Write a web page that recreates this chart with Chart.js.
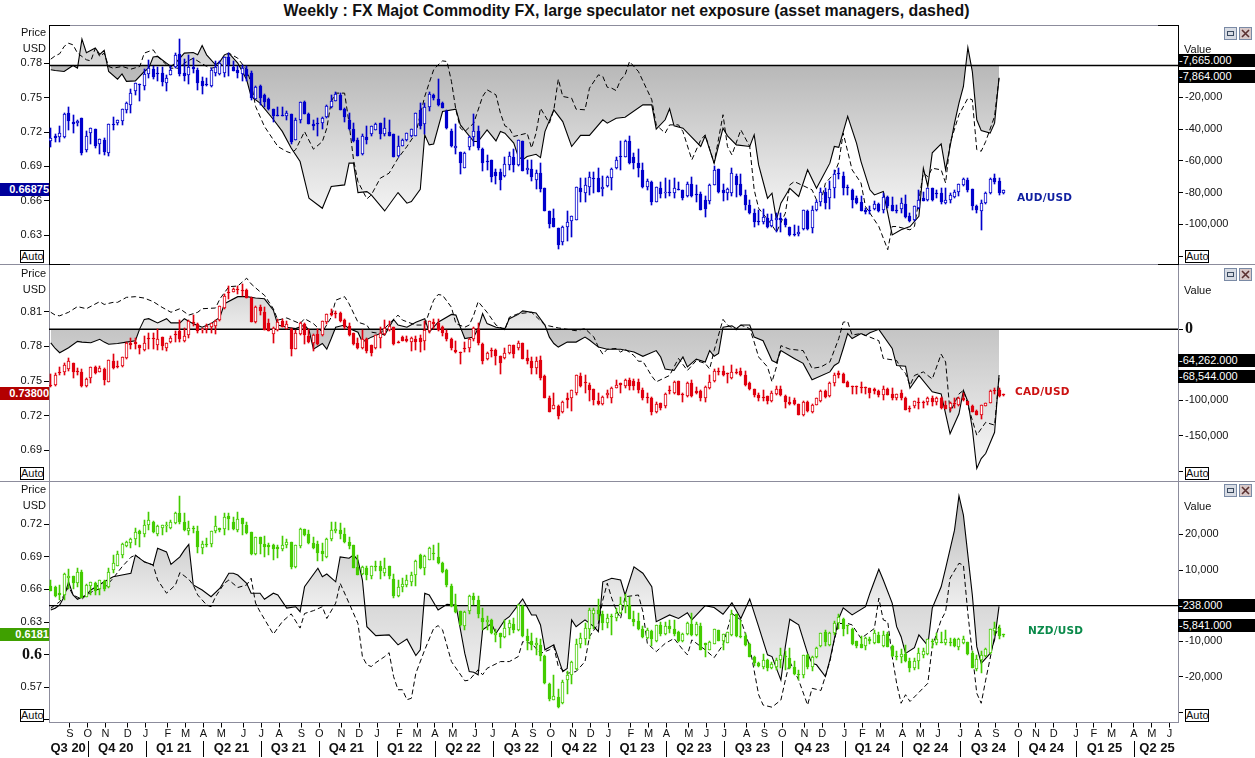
<!DOCTYPE html>
<html>
<head>
<meta charset="utf-8">
<script src="https://cdn.jsdelivr.net/npm/chart.js@4"></script>
<style>
  html, body { margin: 0; padding: 0; background: #fff; width: 1255px; height: 758px; overflow: hidden; }
  body { font-family: "Liberation Sans", Arial, sans-serif; font-size: 11px; color: #111; }
  canvas { position: absolute; left: 0; }
  .t { position: absolute; white-space: nowrap; line-height: 14px; }
  .box { position: absolute; background: #fff; border: 1px solid #000; width: 22px; height: 11px; line-height: 11px; text-align: center; }
  .val { position: absolute; left: 1178px; width: 77px; height: 13px; line-height: 13px; background: #000; color: #fff; padding-left: 1px; box-sizing: border-box; }
  .last { position: absolute; left: 0; width: 49px; height: 13px; line-height: 13px; color: #fff; font-weight: bold; text-align: right; }
  .pair { position: absolute; font-family: "DejaVu Sans", sans-serif; font-weight: bold; font-size: 10.5px; line-height: 12px; letter-spacing: 0.2px; }
  .rule { position: absolute; height: 1px; }
</style>
</head>
<body>
<div class="t" style="left:0;width:1253px;top:3px;text-align:center;font-weight:bold;font-size:15.9px;line-height:16px">Weekly : FX Majot Commodity FX, large speculator net exposure (asset managers, dashed)</div>

<canvas id="audChart" width="1255" height="239" style="top:25px"></canvas>
<canvas id="cadChart" width="1255" height="217" style="top:264px"></canvas>
<canvas id="nzdChart" width="1255" height="277" style="top:481px"></canvas>

<div id="overlay"></div>

<script>
// candles are [open, high, low, close] in thousandths of a USD, one per week
const audCandles = [[712,724,707,715],[717,718,711,715],[716,725,711,719],[716,737,715,736],[737,742,722,730],[729,735,719,727],[728,731,725,730],[732,732,700,702],[704,721,703,717],[719,724,710,724],[723,723,706,708],[710,714,701,714],[713,715,700,703],[702,727,699,727],[727,733,722,726],[728,731,726,731],[730,740,726,740],[739,746,737,745],[744,758,737,754],[756,763,752,763],[761,762,747,761],[760,775,757,771],[771,783,767,776],[775,778,766,768],[772,777,765,771],[772,777,760,764],[763,770,756,767],[770,778,770,774],[777,789,776,787],[788,801,769,771],[772,784,765,769],[770,787,762,777],[777,785,772,775],[774,776,757,763],[765,768,753,760],[762,767,760,761],[760,776,759,774],[772,782,769,777],[771,782,770,780],[772,786,768,786],[786,789,769,779],[777,782,773,773],[774,778,767,772],[771,779,765,776],[775,778,765,769],[772,773,748,750],[749,760,749,759],[760,761,744,750],[752,753,742,746],[749,750,739,740],[740,740,729,734],[735,742,734,734],[735,742,734,734],[734,738,731,737],[736,736,710,711],[713,732,713,731],[731,746,728,746],[746,747,736,736],[736,737,727,727],[727,731,722,725],[728,732,717,727],[728,733,723,732],[733,744,732,743],[742,752,741,747],[747,755,747,753],[752,754,739,739],[740,741,729,733],[731,737,722,723],[723,728,711,712],[713,715,699,699],[701,718,700,717],[716,725,710,713],[718,725,717,725],[722,728,722,727],[728,728,714,718],[718,732,717,724],[720,731,717,717],[718,718,698,698],[699,717,698,708],[708,714,708,713],[713,719,712,719],[717,723,716,723],[717,737,717,737],
[739,745,723,725],[727,745,718,742],[742,755,738,753],[752,753,748,750],[749,766,743,744],[745,746,741,741],[738,739,723,724],[721,723,707,708],[706,727,701,708],[703,703,683,693],[689,703,689,702],[707,717,704,716],[716,736,708,721],[721,725,704,706],[705,706,686,693],[695,700,687,694],[696,696,676,681],[685,688,675,682],[685,688,669,678],[682,698,681,692],[691,703,687,699],[698,705,685,691],[691,713,690,713],[712,712,686,686],[687,696,683,689],[688,696,677,681],[678,687,670,684],[684,693,668,670],[671,671,651,651],[651,651,636,640],[645,653,637,637],[636,636,618,621],[624,638,621,637],[637,651,625,641],[642,647,628,647],[643,672,643,672],[671,680,659,668],[667,680,659,674],[672,685,665,681],[680,685,667,679],[680,689,668,668],[670,682,664,672],[673,682,672,681],[680,689,669,688],[689,698,688,696],[699,712,687,698],[698,713,698,712],[712,717,692,693],[698,702,688,693],[693,705,681,689],[687,693,671,672],[672,679,669,677],[676,677,656,659],[659,672,659,672],[671,676,662,666],[667,680,662,668],[668,678,664,667],[667,680,662,671],[670,676,669,669],[669,669,661,662],[664,676,663,675],[675,681,663,664],[666,674,659,665],[666,668,652,652],[661,664,646,653],[660,675,657,674],[674,690,674,687],[688,688,667,668],[669,675,660,667],[667,671,661,670],[667,689,664,684],[682,683,663,674],[675,683,664,665],[665,669,652,656],[656,661,648,649],[649,653,637,641],[642,652,639,641],[641,653,640,646],[645,648,636,637],[638,648,637,643],[643,649,633,645],[645,649,633,643],[644,645,637,639],[637,637,629,630],[631,639,629,630],[631,638,629,633],[635,652,634,652],[651,652,634,635],[636,655,632,652],[652,661,651,659],[659,671,655,668],[668,671,653,658],[662,677,653,670],[671,687,662,683],
[684,689,679,683],[682,685,665,671],[672,674,665,671],[669,670,654,661],[662,664,657,658],[659,664,651,651],[652,654,648,650],[652,655,648,651],[653,660,652,657],[657,658,650,651],[652,667,649,663],[663,664,654,655],[656,663,651,651],[652,656,649,651],[653,662,649,658],[657,665,645,646],[647,649,641,642],[643,655,642,655],[654,669,653,661],[662,668,660,660],[661,671,660,671],[671,671,660,661],[667,669,662,666],[667,671,657,659],[658,671,657,661],[661,667,658,665],[663,669,662,668],[668,675,664,675],[674,680,673,679],[678,680,668,669],[670,670,652,655],[655,656,649,652],[651,661,634,658],[658,668,657,667],[667,680,666,679],[680,683,675,676],[677,680,665,667],[667,669,666,669]];

const cadCandles = [[747,756,745,746],[747,757,746,755],[758,762,755,757],[758,766,755,764],[760,770,759,767],[766,766,753,758],[759,761,755,758],[758,760,745,746],[746,753,745,752],[753,762,748,762],[762,763,756,757],[758,763,758,761],[760,761,747,751],[749,768,749,768],[767,773,760,761],[762,767,761,762],[763,771,762,771],[770,784,769,783],[783,787,778,781],[784,787,778,782],[781,781,773,779],[777,789,776,783],[786,792,778,786],[787,792,778,786],[781,795,777,786],[788,788,777,780],[779,783,776,783],[784,789,783,787],[791,793,784,790],[793,803,784,786],[785,796,784,789],[790,803,787,802],[801,807,798,800],[799,800,792,793],[794,796,792,795],[795,799,792,798],[797,800,792,800],[798,803,791,802],[803,815,802,815],[813,825,812,824],[826,832,821,826],[827,831,827,830],[830,832,825,829],[829,834,824,828],[829,830,822,822],[822,823,801,801],[801,815,800,814],[814,816,807,811],[810,814,794,794],[800,804,793,793],[791,797,783,796],[794,804,793,801],[802,804,797,797],[795,802,795,799],[795,796,772,778],[778,794,778,792],[791,801,790,800],[799,800,782,790],[789,795,783,784],[783,791,776,790],[791,795,781,782],[790,802,789,802],[801,808,799,808],[809,812,806,807],[809,811,805,808],[809,810,801,802],[803,804,795,797],[798,800,789,790],[792,792,781,782],[783,787,778,779],[779,794,778,786],[786,787,774,776],[781,781,772,774],[779,790,778,790],[787,797,779,792],[791,803,790,796],[794,802,793,798],[797,797,781,782],[784,785,783,783],[788,789,785,785],[786,789,784,785],[784,788,776,787],[786,789,777,784],
[787,790,775,784],[785,802,777,794],[793,802,792,802],[801,804,795,799],[800,804,793,794],[797,798,789,792],[792,794,785,786],[786,787,777,779],[777,785,774,775],[775,775,765,774],[779,784,775,778],[779,787,775,786],[786,797,785,796],[795,800,781,783],[782,783,765,767],[769,775,768,774],[777,779,771,776],[777,778,764,772],[772,772,756,766],[770,779,769,774],[774,781,773,781],[781,781,770,773],[779,785,777,783],[783,783,769,769],[770,777,765,767],[767,771,756,761],[761,771,756,767],[768,772,751,753],[754,755,735,735],[735,737,723,723],[726,740,726,729],[728,729,717,720],[723,733,722,732],[735,740,727,734],[735,742,724,742],[740,755,738,755],[754,757,745,746],[749,755,740,748],[747,748,733,742],[743,743,729,734],[733,740,729,730],[730,737,729,736],[738,742,735,740],[735,745,731,744],[744,751,744,747],[748,748,740,747],[746,752,744,751],[751,753,742,746],[750,752,742,746],[749,752,740,742],[742,744,734,735],[736,740,731,735],[735,736,721,723],[723,732,722,730],[731,731,725,727],[728,740,727,739],[742,746,739,741],[740,750,739,749],[750,750,738,738],[739,740,732,738],[737,749,736,748],[748,751,736,737],[741,745,739,740],[741,742,733,735],[735,746,732,745],[744,755,743,749],[750,760,749,759],[759,761,755,758],[759,763,754,755],[757,757,748,756],[753,764,752,758],[758,760,756,757],[759,761,754,755],[755,759,746,747],[748,749,742,743],[743,743,736,738],[738,740,733,735],[736,742,733,735],[737,737,730,733],[733,741,732,740],[739,746,738,743],[743,746,737,738],[737,738,727,732],[732,736,729,730],[734,735,729,730],[730,730,721,721],[721,733,720,732],[732,733,723,724],[723,730,722,729],[729,735,729,735],[733,742,732,741],[741,742,735,736],[737,749,736,748],[748,757,746,755],
[757,759,753,755],[756,757,748,748],[749,750,745,745],[746,746,739,745],[746,746,739,745],[745,749,740,744],[745,745,739,744],[744,744,735,740],[743,744,739,741],[741,742,736,738],[738,746,734,743],[743,744,738,738],[739,744,734,735],[735,739,734,739],[740,742,734,735],[735,736,725,725],[727,728,723,726],[728,733,727,733],[732,735,726,731],[732,733,727,731],[732,736,729,735],[735,737,728,732],[732,736,729,735],[735,736,726,727],[729,733,726,726],[727,732,724,731],[731,735,727,730],[729,736,728,735],[735,740,733,734],[733,733,729,729],[728,729,723,723],[724,725,721,721],[721,729,717,729],[728,731,728,731],[731,742,731,741],[742,744,739,741],[742,744,736,737],[738,739,737,738]];

const nzdCandles = [[663,669,659,659],[662,663,653,654],[657,664,650,655],[655,675,650,674],[671,679,660,672],[672,672,660,666],[666,680,662,676],[676,678,652,652],[653,665,653,664],[663,667,655,667],[666,667,655,659],[660,669,655,669],[668,669,659,660],[662,680,661,676],[678,692,675,684],[682,695,682,693],[692,703,689,702],[700,705,699,704],[703,707,698,706],[706,717,701,713],[714,715,699,711],[711,724,708,719],[719,731,715,724],[722,723,712,713],[711,719,709,718],[717,719,710,719],[718,722,713,719],[717,724,716,722],[721,731,720,730],[730,746,720,722],[722,730,714,715],[714,723,710,717],[717,718,712,716],[714,718,694,699],[698,705,693,702],[702,707,699,701],[702,714,699,714],[714,728,712,718],[717,717,713,715],[716,730,710,727],[728,730,715,725],[722,727,715,716],[715,731,713,725],[726,726,710,720],[719,722,711,712],[713,713,692,693],[693,708,692,708],[708,708,693,702],[702,709,690,699],[701,703,692,699],[701,702,687,697],[699,701,689,697],[697,709,695,701],[701,706,698,704],[704,704,679,681],[681,701,680,701],[700,717,698,716],[716,716,709,710],[711,715,702,703],[703,708,697,698],[702,705,686,694],[695,703,686,693],[690,707,689,706],[706,722,705,715],[714,722,712,716],[715,721,706,711],[711,717,703,704],[704,708,697,700],[701,701,680,680],[681,692,673,673],[674,682,673,681],[680,682,669,673],[672,682,670,682],[682,686,677,681],[682,686,670,677],[675,689,672,680],[682,682,670,672],[670,674,652,654],[654,669,653,662],[662,671,658,665],[664,673,662,669],[667,676,663,673],[673,687,663,686],
[692,693,679,680],[680,692,673,691],[687,699,687,698],[694,701,687,693],[690,703,683,684],[684,685,675,676],[678,679,662,664],[663,665,644,645],[646,656,638,639],[640,640,626,627],[626,640,623,639],[640,655,637,654],[654,657,646,650],[650,654,634,637],[634,643,623,630],[630,636,623,632],[632,633,619,620],[618,624,612,620],[620,620,606,616],[616,632,615,625],[625,632,618,629],[628,634,620,623],[623,647,622,646],[645,646,616,617],[617,624,604,613],[613,620,604,609],[609,615,600,611],[609,614,594,599],[599,600,573,574],[573,574,557,559],[558,581,558,562],[561,568,551,552],[556,577,555,575],[577,585,564,581],[581,594,573,593],[587,614,586,610],[610,620,606,615],[614,629,609,625],[624,643,614,641],[637,643,624,641],[641,651,632,637],[637,640,623,629],[629,637,625,634],[635,637,618,635],[634,643,631,638],[638,653,637,647],[645,656,638,649],[646,653,633,633],[633,640,626,630],[631,638,623,624],[624,626,615,616],[615,625,614,623],[622,623,608,614],[613,627,612,627],[627,630,617,619],[619,630,618,626],[626,632,620,624],[624,632,617,619],[621,622,612,613],[613,620,612,619],[619,630,618,629],[628,638,617,618],[618,630,617,628],[626,629,604,604],[611,611,598,609],[604,613,604,612],[610,624,610,624],[623,623,613,613],[613,619,604,619],[611,621,611,621],[618,641,617,637],[637,637,616,617],[617,632,615,616],[617,620,608,609],[610,611,598,598],[598,599,590,592],[592,593,589,590],[589,601,587,595],[595,596,585,588],[588,593,587,591],[589,597,586,595],[595,606,588,600],[599,603,586,598],[597,606,587,588],[589,594,581,582],[582,586,577,581],[581,600,579,600],[600,601,587,589],[589,599,585,598],[598,607,597,606],[608,620,607,620],[621,623,608,612],[609,621,608,620],[620,631,618,629],
[629,637,624,635],[633,634,617,624],[626,627,619,626],[624,625,609,610],[613,613,606,608],[610,617,606,606],[608,616,604,615],[614,616,610,613],[611,623,610,620],[618,621,611,611],[608,622,607,618],[619,621,607,607],[608,609,598,599],[599,603,595,598],[598,605,592,601],[601,609,593,594],[594,597,584,588],[588,597,586,594],[594,606,587,602],[600,606,597,603],[601,614,600,614],[613,614,606,612],[611,620,609,614],[612,621,611,611],[611,623,609,614],[612,615,608,611],[614,615,607,608],[607,615,604,614],[611,617,610,614],[612,612,600,601],[602,603,588,588],[587,600,585,596],[595,603,583,600],[599,606,598,605],[602,624,601,624],[622,630,618,625],[625,627,614,617],[618,619,616,618]];

// net positions are [week, thousand contracts]
const audLargeSpec = [[0,-2.7],[1,-3.2],[3,-3.8],[5,0],[6,-1.7],[7,16.6],[8,8],[10,11],[11,7],[12,9.5],[13,-3.8],[15,-8.6],[16,-5.3],[17,-10],[19,-9.7],[21,-3.8],[22,-1.7],[23,5.3],[24,5.7],[26,1.5],[27,-.6],[28,1.5],[30,7.8],[32,8.2],[33,6.7],[34,12.6],[35,6.7],[37,.4],[38,2.5],[39,6.7],[40,7.8],[42,1.5],[44,-9],[45,-19.5],[47,-23.7],[50,-34],[52,-41.5],[54,-52],[56,-60.5],[58,-83.6],[61,-89.9],[63,-76.2],[66,-75.2],[67,-61.5],[68,-61.5],[69,-80],[71,-79.4],[72,-81.5],[75,-91.6],[78,-80],[80,-86.7],[81,-85.7],[83,-78],[84,-43.7],[85,-50],[86,-49.4],[88,-29],[91,-27.5],[92,-37.4],[95,-47.9],[96,-47.9],[98,-40.5],[100,-47.5],[101,-41.6],[102,-42.6],[104,-48.9],[105,-57.3],[106,-59.4],[107,-57.3],[109,-55.9],[110,-58],[111,-41.6],[113,-27.9],[115,-35.3],[117,-51],[119,-44],[121,-44],[124,-34.2],[125,-36.3],[127,-33.2],[129,-32.6],[133,-24.8],[135,-24.8],[136,-40],[138,-34.2],[139,-27.3],[140,-38],[142,-39.5],[146,-51],[147,-44.3],[149,-61.5],[151,-39.5],[152,-44.3],[154,-50],[157,-51],[158,-43.7],[159,-62.6],[161,-83.6],[162,-80.4],[163,-97.2],[164,-86.7],[166,-77.3],[168,-82.5],[170,-65.7],[172,-77.3],[175,-61.5],[176,-51],[177,-51.5],[179,-32],[181,-49],[182,-60.5],[184,-78.3],[185,-81.5],[187,-79.4],[189,-106.7],[191,-103.5],[193,-101.4],[195,-95],[196,-64.7],[197,-76.2],[198,-55],[200,-49.4],[201,-65.7],[203,-36.3],[204,-23.7],[205,-13.2],[206,11.3],[207,-3.8],[208,-34.2],[209,-41],[211,-42.6],[212,-36.3],[213,-7.7]];
const audAssetMgr = [[0,4],[1,6.1],[2,7.4],[3,12],[4,14],[5,13],[6,7.8],[8,3.6],[9,2.9],[10,10.9],[11,5.7],[12,7.8],[13,-.6],[14,-1.7],[16,-.6],[18,-2.3],[20,-.6],[21,7.8],[23,9.9],[24,5.7],[26,.4],[27,-1.7],[29,-1.7],[30,1.5],[32,4.6],[35,-.6],[36,-1.7],[38,-.6],[40,7.8],[42,4.6],[44,-2.7],[45,-11],[46,-25.8],[48,-38.4],[51,-51],[53,-54.2],[54,-55.2],[55,-53],[57,-41.6],[59,-52.7],[61,-47.9],[62,-39.5],[63,-22.7],[64,-17.4],[66,-17.4],[67,-36.3],[68,-59.4],[69,-73.1],[71,-84],[72,-81.5],[74,-71],[76,-67.8],[78,-58.4],[80,-51],[82,-42.6],[84,-19.5],[85,-11],[86,-2.7],[87,.4],[88,2.9],[89,2.5],[90,-10],[91,-28],[92,-39.5],[93,-41.6],[95,-36.3],[97,-19.5],[98,-15.3],[100,-18.5],[101,-30],[102,-38],[103,-39.5],[104,-44.7],[107,-42.6],[108,-52],[109,-42.6],[110,-26.9],[112,-36.3],[113,-27.9],[114,-8.6],[115,-19.5],[117,-20.6],[118,-27.5],[120,-27.9],[121,-14.3],[123,-5.9],[124,-6.9],[125,-13.7],[126,-14.3],[127,-15.8],[128,-9],[129,-5.9],[130,2.5],[132,-3.8],[135,-21.6],[136,-37.4],[138,-42.6],[139,-37.4],[141,-37.4],[142,-41.6],[144,-59.4],[146,-46.8],[147,-43.7],[149,-61.5],[151,-31],[152,-51],[153,-56.3],[155,-40.5],[157,-51],[158,-78.3],[159,-89.9],[162,-100.4],[163,-105],[165,-93],[166,-75.2],[167,-73.1],[171,-78.3],[172,-84.6],[173,-85.7],[174,-74.1],[176,-68],[177,-61],[178,-42.6],[180,-65.7],[182,-74],[183,-88.8],[186,-101.4],[188,-116],[189,-101.4],[190,-101.4],[193,-103.5],[194,-101.4],[196,-67.8],[197,-70],[198,-64.7],[200,-65.7],[201,-74],[202,-49],[204,-31],[206,-20.6],[207,-21.6],[208,-53],[209,-54],[210,-47.9],[212,-32],[213,-7.9]];

const cadLargeSpec = [[0,-19],[1,-27],[2,-33],[4,-26],[6,-17],[7,-18],[9,-19],[11,-14],[12,-18],[13,-21],[15,-20],[17,-18],[19,-16],[20,1],[21,14],[22,15],[24,9],[26,15],[27,9],[29,9],[30,15],[32,8],[34,3],[36,8],[38,17],[39,36],[42,46],[44,46],[46,44],[48,43],[50,27],[51,6],[53,3],[55,1],[57,6],[58,-1],[59,-28],[61,-20],[62,-28],[63,-13],[64,3],[66,6],[67,1],[69,-4],[70,-18],[72,-11],[74,-6],[75,-8],[77,14],[78,6],[80,3],[82,10],[84,15],[85,-4],[87,10],[90,21],[91,20],[92,3],[93,-13],[95,-11],[96,1],[97,22],[98,8],[100,3],[102,1],[103,15],[105,21],[106,26],[109,23],[111,6],[112,-11],[113,-20],[114,-25],[116,-18],[118,-18],[120,-11],[121,-15],[123,-25],[125,-28],[128,-28],[131,-32],[133,-38],[136,-30],[137,-39],[138,-56],[140,-58],[142,-39],[143,-53],[145,-42],[147,-46],[148,-30],[149,-38],[150,-34],[151,3],[153,5],[154,1],[155,6],[157,6],[158,-11],[160,-16],[162,-44],[163,-47],[164,-30],[167,-41],[169,-48],[171,-71],[175,-60],[176,-51],[177,-47],[178,-27],[179,-6],[180,-13],[182,-6],[183,-9],[184,-5],[186,0],[189,-27],[190,-51],[192,-52],[193,-83],[195,-65],[198,-88],[200,-91],[202,-147],[204,-119],[205,-86],[206,-102],[207,-140],[208,-196],[209,-182],[210,-175],[212,-145],[213,-64.3]];
const cadAssetMgr = [[0,24],[1,20],[2,19],[4,24],[6,32],[8,29],[11,39],[12,35],[14,38],[15,38],[17,45],[19,46],[21,44],[23,39],[25,31],[27,24],[29,29],[31,20],[33,24],[34,29],[37,30],[38,43],[40,60],[42,61],[44,72],[45,64],[47,53],[48,48],[50,29],[51,13],[53,16],[56,8],[57,15],[59,8],[61,-4],[63,17],[64,41],[66,46],[67,36],[69,10],[71,6],[72,-4],[74,-6],[76,8],[78,20],[79,13],[82,6],[84,6],[85,24],[86,41],[87,49],[88,48],[90,31],[91,8],[93,3],[94,6],[95,20],[96,39],[98,24],[100,6],[102,-1],[103,17],[105,22],[108,24],[111,6],[114,2],[115,1],[118,-2],[120,1],[122,-11],[123,-25],[124,-35],[125,-28],[127,-27],[128,-32],[129,-28],[131,-37],[132,-45],[133,-45],[135,-66],[136,-74],[139,-65],[141,-41],[143,-58],[145,-44],[147,-48],[148,-56],[149,-30],[150,-8],[151,14],[152,6],[154,-1],[155,6],[157,1],[158,-18],[159,-39],[161,-53],[162,-74],[163,-53],[164,-23],[166,-28],[169,-30],[171,-55],[173,-53],[175,-46],[177,-13],[178,10],[179,11],[180,-8],[182,-6],[184,-11],[186,-16],[187,-41],[190,-44],[191,-55],[192,-62],[193,-79],[194,-65],[196,-60],[198,-70],[200,-35],[201,-46],[202,-117],[204,-91],[205,-86],[208,-149],[210,-131],[212,-135],[213,-68.5]];

const nzdLargeSpec = [[0,-1.2],[1,-.7],[2,.2],[3,2.5],[4,6.7],[5,3],[6,1.8],[8,3],[9,4.4],[12,6.7],[14,8.1],[16,8.6],[18,9.1],[19,14.2],[21,12.3],[23,11.4],[24,16.1],[26,15.1],[27,11.6],[29,13.7],[30,15.6],[31,17.2],[32,5.8],[34,4.4],[36,2.5],[38,4.9],[40,9.1],[41,9.1],[42,8.6],[44,6.3],[45,3.5],[47,3.5],[48,1.8],[50,3.5],[51,3],[53,-.7],[55,-.3],[56,-1.7],[57,5.3],[60,10.5],[61,8.1],[62,8.9],[64,6.7],[65,13.7],[67,13.3],[68,14.2],[69,12.8],[70,7.2],[71,-5.9],[73,-8.4],[76,-8.2],[78,-11],[80,-9.4],[82,-14],[83,-12.4],[84,3.5],[85,3],[87,-1.2],[89,.4],[91,.2],[93,-13.4],[94,-18.5],[95,-18.7],[96,-19.4],[97,-6.8],[99,-5],[100,-7.8],[102,-4],[103,-3.1],[105,.2],[106,1.9],[108,-2.6],[109,-2.6],[110,-5.4],[111,-12.4],[113,-11],[115,-18.5],[116,-17.6],[117,-4],[118,-5.9],[120,-4],[122,-5.9],[123,-7.3],[124,6.7],[126,7.7],[128,7.2],[129,3],[131,10.9],[133,9.1],[135,5.3],[136,-4.5],[139,-2.6],[141,-3.6],[143,-2],[144,-4],[147,0],[149,-.5],[151,-2.4],[153,.8],[155,-3.6],[157,1.9],[159,-5.9],[161,-13.8],[162,-14.3],[164,-20.9],[165,-11.5],[166,-3.8],[168,-5.4],[170,-13.4],[171,-16.2],[172,-16.6],[174,-19.9],[175,-15.2],[177,-3.6],[178,-.6],[180,-2.6],[183,-.3],[184,3.5],[186,10.2],[187,7.2],[189,.7],[190,-5.9],[191,-8.7],[192,-13.4],[194,-11.8],[195,-8.2],[197,-11.2],[198,-.7],[200,5.3],[201,10.5],[203,21.2],[204,30.8],[205,25.4],[207,3],[208,-11.5],[209,-16.2],[211,-13.4],[212,-9.6],[213,-.2]];
const nzdAssetMgr = [[0,-.7],[2,1.1],[3,3],[4,5.3],[5,3],[7,1.8],[8,3],[10,4.4],[12,4.9],[14,7.7],[16,10.9],[18,13.6],[19,14.2],[21,12.3],[23,11.4],[24,7.2],[26,3.5],[28,5.8],[29,9.3],[31,7.4],[32,5.8],[33,3],[35,.2],[36,-.3],[37,2.5],[39,6.3],[40,7.2],[42,5.1],[44,5.8],[45,7.7],[46,.7],[47,-1.7],[49,-5.9],[50,-8],[52,-4.5],[54,-2.3],[56,-6.3],[57,-2.2],[59,-1.4],[61,-.3],[62,-3.6],[64,.7],[65,6.3],[67,.7],[69,-5],[70,-14.3],[71,-16.6],[72,-17.1],[73,-16],[75,-14.3],[76,-13.2],[77,-19.9],[78,-23.6],[79,-23.6],[80,-26.4],[81,-26],[82,-19],[84,-12.4],[86,-6.4],[87,-5.6],[88,-6.8],[90,-15.7],[93,-21.1],[94,-20.9],[96,-18],[97,-19.4],[98,-17.6],[101,-15.7],[103,-15.7],[105,-14.3],[106,-10.1],[108,-10.6],[110,-13.4],[112,-12.4],[113,-11.5],[114,-17.1],[116,-19],[118,-18.5],[120,-15.7],[121,-8.7],[123,-5],[124,1.6],[125,6.3],[126,2.1],[127,-1.2],[128,-3.6],[129,2.5],[132,3],[133,-1.7],[134,-10.6],[136,-12.9],[138,-10.6],[140,-9.2],[142,-12.4],[143,-13.8],[144,-9.6],[147,-12.4],[149,-14.6],[151,-11],[153,-2.2],[155,-4],[157,-11.5],[159,-25],[160,-27.9],[162,-28.5],[164,-26.5],[165,-20.9],[166,-15.7],[168,-20.9],[170,-27.9],[171,-23.2],[173,-23.8],[175,-15.7],[176,-9.6],[177,-5],[179,-5],[180,-5.4],[182,-9.2],[185,-6.4],[186,2.1],[187,-4],[188,-4.5],[189,-14.3],[190,-21.8],[191,-27.4],[192,-25],[193,-26.9],[197,-21.8],[198,-11.5],[200,-4],[201,-1.7],[202,7.7],[204,11.9],[205,11.4],[206,-2.2],[208,-24.6],[209,-27.4],[210,-20.9],[212,-8.7],[213,-5.8]];

const audPriceTicks = [0.78, 0.75, 0.72, 0.69, 0.66, 0.63];
const cadPriceTicks = [0.81, 0.78, 0.75, 0.72, 0.69];
const nzdPriceTicks = [0.72, 0.69, 0.66, 0.63, 0.6, 0.57, 0.54];
const audValueTicks = [-20000, -40000, -60000, -80000, -100000, -120000];
const cadValueTicks = [0, -100000, -150000, -200000];
const nzdValueTicks = [20000, 10000, -10000, -20000, -30000];

const monthWeeks = [4,8,12,17,21,26,30,34,38,43,47,51,56,60,65,69,73,78,82,86,90,95,99,104,108,112,117,121,125,130,134,138,143,147,151,156,160,164,169,173,178,182,186,191,195,199,204,208,212,217,221,225,230,234,238,243,247,251];
const monthLabels = ["S","O","N","D","J","F","M","A","M","J","J","A","S","O","N","D","J","F","M","A","M","J","J","A","S","O","N","D","J","F","M","A","M","J","J","A","S","O","N","D","J","F","M","A","M","J","J","A","S","O","N","D","J","F","M","A","M","J"];
const quarterWeeks = [3.9,14.6,27.6,40.6,53.4,66.4,79.5,92.6,105.7,118.7,131.7,144.5,157.6,171,184.5,197.6,210.6,223.6,236.7,248.5];
const quarterLabels = ["Q3 20","Q4 20","Q1 21","Q2 21","Q3 21","Q4 21","Q1 22","Q2 22","Q3 22","Q4 22","Q1 23","Q2 23","Q3 23","Q4 23","Q1 24","Q2 24","Q3 24","Q4 24","Q1 25","Q2 25"];
const quarterBreaks = [8,21,34,47,60,73,86,99,112,125,138,151,164,178,191,204,217,230,243];

Chart.defaults.font.family = '"Liberation Sans", Arial, sans-serif';
Chart.defaults.font.size = 11;
Chart.defaults.color = "#111";

const FIRST_WEEK = -0.4, LAST_WEEK = 253.2;
const GREY = "#8c8c9c";

// snap the candles to whole pixels so they stay sharp
const crispBars = {
  id: "crispBars",
  beforeDatasetsDraw(chart) {
    chart.getSortedVisibleDatasetMetas().forEach(meta => {
      if (meta.type !== "bar") return;
      meta.data.forEach(el => {
        el.x = Math.floor(el.x) + 0.5;
        el.y = Math.round(el.y);
        el.base = Math.round(el.base);
      });
    });
  },
};

// little bars between the quarter names
const quarterBars = {
  id: "quarterBars",
  afterDraw(chart) {
    const c = chart.ctx, s = chart.scales.x;
    c.save();
    c.strokeStyle = "#000";
    c.beginPath();
    quarterBreaks.forEach(w => {
      const x = Math.round(s.getPixelForValue(w + 0.3)) + 0.5;
      c.moveTo(x, 260);
      c.lineTo(x, 276);
    });
    c.stroke();
    c.restore();
  },
};

function fade(ctx, top, from, fromColor, to, toColor) {
  const g = ctx.createLinearGradient(0, from - top, 0, to - top);
  g.addColorStop(0, fromColor);
  g.addColorStop(1, toColor);
  return g;
}

function toPoints(list) {
  return list.map(p => ({ x: p[0], y: p[1] * 1000 }));
}

function makePanel(p) {
  const ctx = document.getElementById(p.id).getContext("2d");
  const axisColor = p.axisColor;
  const fixWidth = w => s => { s.width = w; s.paddingTop = 0; s.paddingBottom = 0; };
  const fixHeight = h => s => { s.height = h; s.paddingLeft = 0; s.paddingRight = 0; };

  const scales = {
    x: {
      type: "linear", min: FIRST_WEEK, max: LAST_WEEK, offset: false,
      display: p.showDates,
      grid: { offset: false, drawOnChartArea: false, tickLength: 5, tickColor: "#000" },
      border: { display: false },
      afterBuildTicks: s => { s.ticks = monthWeeks.map(w => ({ value: w + 0.3 })); },
      afterFit: fixHeight(p.showDates ? 18 : 0),
      ticks: { autoSkip: false, maxRotation: 0, padding: 0, callback: (v, i) => monthLabels[i] },
    },
    y: {
      position: "left", min: p.priceMin, max: p.priceMax,
      grid: { drawOnChartArea: false, tickLength: 5, tickColor: "#000" },
      border: { color: axisColor, width: 1 },
      afterBuildTicks: s => { s.ticks = p.priceTicks.map(v => ({ value: v })); },
      afterFit: fixWidth(49),
      ticks: {
        autoSkip: false, padding: 2,
        callback: v => (v === 0.54 ? "" : v === 0.6 ? "0.6" : v.toFixed(2)),
        font: c => (c.tick && c.tick.value === 0.6
          ? { family: '"Liberation Serif", serif', weight: "bold", size: 16 }
          : { size: 11 }),
      },
    },
    y2: {
      position: "right", min: p.valueMin, max: p.valueMax,
      grid: { drawOnChartArea: false, tickLength: 5, tickColor: "#000" },
      border: { color: axisColor, width: 1 },
      afterBuildTicks: s => { s.ticks = p.valueTicks.map(v => ({ value: v })); },
      afterFit: fixWidth(77),
      ticks: {
        autoSkip: false, padding: 2,
        callback: v => ([-120000, -200000, -30000].includes(v) ? "" : v.toLocaleString("en-US")),
        font: c => (c.tick && c.tick.value === 0
          ? { family: '"Liberation Serif", serif', weight: "bold", size: 16 }
          : { size: 11 }),
      },
    },
  };
  if (p.showDates) {
    scales.x2 = {
      type: "linear", position: "bottom", min: FIRST_WEEK, max: LAST_WEEK, offset: false,
      grid: { drawOnChartArea: false, drawTicks: false, display: false },
      border: { display: false },
      afterBuildTicks: s => { s.ticks = quarterWeeks.map(w => ({ value: w })); },
      afterFit: fixHeight(17.5),
      ticks: { autoSkip: false, maxRotation: 0, padding: 0, font: { weight: "bold", size: 13 }, callback: (v, i) => quarterLabels[i] },
    };
  }

  return new Chart(ctx, {
    type: "bar",
    data: {
      datasets: [
        {
          label: p.name + " body", order: 0, grouped: false, xAxisID: "x", yAxisID: "y",
          data: p.candles.map((c, i) => ({ x: i, y: [c[0] / 1000, c[3] / 1000] })),
          backgroundColor: p.candles.map(c => (c[3] > c[0] ? "#fff" : p.color)),
          borderColor: p.color, borderWidth: 1, borderSkipped: false, barThickness: 3, minBarLength: 1,
        },
        {
          label: p.name + " range", order: 1, grouped: false, xAxisID: "x", yAxisID: "y",
          data: p.candles.map((c, i) => ({ x: i, y: [c[2] / 1000, c[1] / 1000] })),
          backgroundColor: p.color, barThickness: 1,
        },
        {
          type: "line", label: "Asset managers", order: 2, xAxisID: "x", yAxisID: "y2",
          data: toPoints(p.dashed),
          borderColor: "#000", borderWidth: 1, borderDash: [5, 3], pointRadius: 0, tension: 0, fill: false,
        },
        {
          type: "line", label: "Zero", order: 3, xAxisID: "x", yAxisID: "y2",
          data: [{ x: FIRST_WEEK, y: 0 }, { x: LAST_WEEK, y: 0 }],
          borderColor: "#000", borderWidth: 1.4, pointRadius: 0, fill: false,
        },
        {
          type: "line", label: "Large speculators", order: 4, xAxisID: "x", yAxisID: "y2",
          data: toPoints(p.solid),
          borderColor: "#000", borderWidth: 1.1, pointRadius: 0, tension: 0,
          fill: { target: { value: 0 }, above: fade(ctx, p.top, ...p.aboveFade), below: fade(ctx, p.top, ...p.belowFade) },
        },
      ],
    },
    options: {
      responsive: false, animation: false, devicePixelRatio: 1, events: [],
      layout: { padding: 0 },
      plugins: { legend: { display: false }, tooltip: { enabled: false }, title: { display: false } },
      scales,
    },
    plugins: p.showDates ? [crispBars, quarterBars] : [crispBars],
  });
}

makePanel({
  id: "audChart", name: "AUD/USD", top: 25, color: "#0000cc", axisColor: "#000", showDates: false,
  candles: audCandles, solid: audLargeSpec, dashed: audAssetMgr,
  priceMin: 0.6047, priceMax: 0.8136, priceTicks: audPriceTicks,
  valueMin: -125000, valueMax: 25500, valueTicks: audValueTicks,
  aboveFade: [25, "#cfcfcf", 66, "#d8d8d8"], belowFade: [66, "#b8b8b8", 232, "#fcfcfc"],
});
makePanel({
  id: "cadChart", name: "CAD/USD", top: 264, color: "#e0000f", axisColor: GREY, showDates: false,
  candles: cadCandles, solid: cadLargeSpec, dashed: cadAssetMgr,
  priceMin: 0.6634, priceMax: 0.8514, priceTicks: cadPriceTicks,
  valueMin: -213660, valueMax: 92000, valueTicks: cadValueTicks,
  aboveFade: [290, "#d4d4d4", 329, "#ececec"], belowFade: [329, "#c4c4c4", 470, "#f8f8f8"],
});
makePanel({
  id: "nzdChart", name: "NZD/USD", top: 481, color: "#44cc00", axisColor: GREY, showDates: true,
  candles: nzdCandles, solid: nzdLargeSpec, dashed: nzdAssetMgr,
  priceMin: 0.5376, priceMax: 0.7598, priceTicks: nzdPriceTicks,
  valueMin: -32800, valueMax: 35000, valueTicks: nzdValueTicks,
  aboveFade: [497, "#b8b8b8", 605, "#eeeeee"], belowFade: [606, "#d8d8d8", 700, "#f8f8f8"],
});

// text and furniture around the plots
const overlay = document.getElementById("overlay");
function add(cls, css, text) {
  const d = document.createElement("div");
  d.className = cls;
  d.style.cssText = css;
  if (text) d.textContent = text;
  overlay.appendChild(d);
}

add("rule", `left:49px;width:1129px;top:25px;background:${GREY}`);
add("rule", `left:0;width:1255px;top:264px;background:${GREY}`);
add("rule", `left:0;width:1255px;top:481px;background:${GREY}`);
add("rule", `left:49px;width:1130px;top:722px;background:${GREY}`);
add("rule", "left:49px;width:21px;top:25px;background:#000");
add("rule", "left:49px;width:21px;top:264px;background:#000");
add("rule", "left:1158px;width:21px;top:25px;background:#000");
add("rule", "left:1158px;width:21px;top:264px;background:#000");

[[32, 48, 49], [273, 289, 290], [489, 505, 506]].forEach(r => {
  add("t", `left:0;width:46px;text-align:right;top:${r[0] - 7}px`, "Price");
  add("t", `left:0;width:46px;text-align:right;top:${r[1] - 7}px`, "USD");
  add("t", `left:1184px;top:${r[2] - 7}px`, "Value");
});

[[20, 250], [1185, 250], [20, 467], [1185, 467], [20, 709], [1185, 709]].forEach(r => {
  add("box", `left:${r[0]}px;top:${r[1]}px`, "Auto");
});

[[54, "-7,665.000"], [70, "-7,864.000"], [354, "-64,262.000"], [370, "-68,544.000"], [599, "-238.000"], [619, "-5,841.000"]].forEach(r => {
  add("val", `top:${r[0]}px`, r[1]);
});

add("last", "top:183px;background:#00009c", "0.66875");
add("last", "top:387px;background:#b30000", "0.73800");
add("last", "top:628px;background:#3fa000", "0.6181");

add("pair", "left:1017px;top:191px;color:#0f1fa0", "AUD/USD");
add("pair", "left:1015px;top:385px;color:#cc1111", "CAD/USD");
add("pair", "left:1028px;top:624px;color:#0a8a4a", "NZD/USD");

[27, 268, 484].forEach(y => {
  overlay.insertAdjacentHTML("beforeend",
    `<svg style="position:absolute;left:1224px;top:${y}px" width="28" height="13">
      <rect x="0.5" y="0.5" width="12" height="12" fill="#d8dce4" stroke="#7a8aa5"/>
      <rect x="3.5" y="4.5" width="6" height="4" fill="none" stroke="#3a4a60"/>
      <rect x="15.5" y="0.5" width="12" height="12" fill="#d8c8c8" stroke="#7a8aa5"/>
      <path d="M18 3 L25 10 M25 3 L18 10" stroke="#5a3030" stroke-width="1.6"/>
    </svg>`);
});
</script>
</body>
</html>
